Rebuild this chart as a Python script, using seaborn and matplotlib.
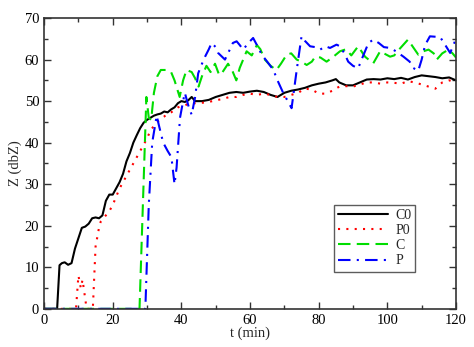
import numpy as np
import pandas as pd
import matplotlib
matplotlib.use("Agg")
import matplotlib.pyplot as plt
import seaborn as sns
from matplotlib.ticker import MultipleLocator
from matplotlib.lines import Line2D

# ---- data ----
t_c0 = [0, 3.8, 4.5, 5.2, 6, 7, 8, 9, 10, 11, 12, 13, 14, 15, 16, 17, 18, 19, 20, 21,
        22, 23, 24, 25, 26, 27, 28, 29, 30, 31, 32, 33, 34, 35, 36, 37, 38, 39, 40, 41,
        42, 43, 44, 45, 46, 48, 50, 52, 54, 56, 58, 60, 62, 64, 66, 68, 70, 72, 74, 76,
        78, 80, 82, 84, 85, 86, 88, 90, 92, 94, 96, 98, 100, 102, 104, 106, 108, 110,
        112, 114, 116, 118, 120]
z_c0 = [0, 0, 10.5, 11, 11.2, 10.6, 11, 14.5, 17, 19.5, 19.8, 20.5, 21.8, 22, 21.8, 22.5,
        26, 27.5, 27.5, 29, 30.5, 32.5, 35.5, 37.5, 40, 41.8, 43.5, 44.8, 45.5, 46, 46.5,
        46.8, 47, 47.5, 47.3, 48, 48.5, 49.5, 50, 49.8, 50.2, 51, 50, 50, 50, 50.3, 51,
        51.5, 52, 52.2, 52, 52.3, 52.5, 52.2, 51.5, 51, 52, 52.5, 52.8, 53.2, 53.8, 54.2,
        54.5, 55, 55.3, 54.5, 53.8, 53.8, 54.5, 55.2, 55.3, 55.2, 55.5, 55.3, 55.6, 55.2,
        55.8, 56.2, 56, 55.8, 55.5, 55.7, 55]

t_p0 = [0, 9.3, 10, 10.7, 11.2, 12.4, 14.2, 15, 16, 16.5, 17, 18, 19, 20, 21, 22, 23, 24,
        25, 26, 27, 28, 29, 30, 31, 32, 33, 34, 35, 36, 37, 38, 39, 40, 41, 42, 44, 46,
        48, 50, 52, 54, 56, 58, 60, 62, 64, 66, 68, 70, 72, 74, 76, 78, 80, 82, 84, 86,
        88, 90, 92, 94, 96, 98, 100, 102, 104, 106, 108, 110, 112, 114, 116, 118, 120]
z_p0 = [0, 0, 8, 5, 7, 0, 0, 15, 19.5, 21, 21.5, 22.5, 23.5, 25, 27, 29, 30.5, 32, 33.5,
        35, 36.5, 38, 39.5, 41, 43, 44, 45, 45.8, 46.3, 47, 47.3, 47.8, 48.5, 48.8, 49,
        49.3, 49.5, 49.6, 49.8, 50.2, 50.5, 51, 51, 51.5, 51.8, 51.5, 51.8, 51.5, 51, 51,
        51.5, 52, 53, 52.8, 51.8, 51.8, 52.5, 53.5, 53.6, 53.5, 54, 54.5, 54.5, 54.2, 54.5,
        54.4, 54.2, 54.8, 54.5, 54, 53.5, 53, 54.5, 55, 54.5]

t_c = [0, 27.8, 29.8, 30.5, 31.2, 32, 33, 34, 35.5, 37, 38, 39.5, 40.5, 41.5, 43, 44,
       45, 46, 47.3, 48.5, 49.8, 51, 52, 53.6, 55, 56, 57, 59, 60.5, 62, 63, 64.3, 66,
       67.7, 69, 70.7, 72, 73.6, 75, 76.5, 78, 79, 80.5, 82.3, 84, 86.2, 88, 89.5, 91.5,
       93.5, 95.9, 97.9, 99, 100.8, 102, 103.5, 106, 107.5, 109, 110.5, 112, 113.5,
       114.4, 116, 117.8, 119, 120]
z_c = [0, 0, 51, 46, 45.5, 52, 56, 57.5, 57.5, 57, 55, 51, 55, 57.5, 57, 55.5, 53.5, 56,
       58.5, 57, 59, 56.3, 57, 59, 57, 55, 58, 62, 61, 63.5, 62.5, 60, 58.5, 57.5, 59,
       61.2, 61.5, 60, 59.5, 58.7, 59.5, 60.7, 60.5, 59.5, 60.5, 62, 62.5, 61, 63.2, 60.7,
       59.1, 62, 61.5, 60.7, 61, 62.5, 64.8, 63, 61.2, 62, 62.4, 61.5, 60, 61.5, 62.4,
       61.5, 60.5]

t_p = [0, 29.5, 30.5, 31.5, 32.8, 33.5, 34.7, 36, 37.1, 38, 38.6, 39.6, 40.5, 41, 42, 43,
       44, 44.9, 46, 46.9, 48, 48.8, 50, 50.7, 52.7, 54.1, 55, 56.1, 57, 58, 59.5, 60.9,
       62, 63.4, 65, 66.8, 68, 69.7, 71, 72.1, 73.6, 75, 76, 77.5, 79, 80.4, 82, 83.3,
       85.2, 86.2, 87.5, 88.6, 90, 91.5, 92.5, 93.5, 94.5, 95.9, 97.5, 99, 100.8, 102.5,
       104.7, 106.5, 107.5, 109, 110, 111, 112.4, 114, 115.4, 116.5, 118.3, 119, 120]
z_p = [0, 0, 25, 40, 46.5, 44, 40, 38, 36.5, 30, 34, 46, 50, 52, 49, 46.7, 51, 56.7, 59,
       60.7, 62.5, 64, 63, 61.6, 60, 62.4, 64, 64.4, 63.5, 62.4, 64, 65.2, 63.5, 61.2,
       59.5, 57.5, 55, 51.9, 50, 48.3, 57.5, 65.6, 64.5, 63.2, 63, 62.4, 63.2, 62.8, 63.6,
       63.2, 61.5, 59.5, 58.5, 57.9, 60, 62, 64, 64.8, 64, 63, 62.8, 62, 60.7, 59.5, 58,
       57.3, 60, 63.5, 65.6, 65.5, 65.4, 64, 61.6, 63, 65]

labels = ["C0", "P0", "C", "P"]
colors = ["#000000", "#ff0000", "#00dd00", "#0000ff"]
styles = ["-", (0, (1, 3)), (0, (6, 3)), (0, (6, 3, 1, 3))]

series = {"C0": (t_c0, z_c0), "P0": (t_p0, z_p0), "C": (t_c, z_c), "P": (t_p, z_p)}

sns.set_style("ticks")
plt.rcParams["font.family"] = ["Liberation Serif", "DejaVu Serif"]

fig = plt.figure(figsize=(4.74, 3.47), dpi=100)
ax = fig.add_axes([0.093, 0.110, 0.869, 0.838])

handles = []
for lab, col, ls in zip(labels, colors, styles):
    t, z = series[lab]
    df = pd.DataFrame({"t": t, "z": z})
    sns.lineplot(data=df, x="t", y="z", ax=ax, color=col, linestyle=ls,
                 linewidth=1.5, sort=False, estimator=None, legend=False)
    handles.append(Line2D([0], [0], color=col, linestyle=ls, linewidth=1.5))

ax.set_xlim(0, 120)
ax.set_ylim(0, 70)
ax.xaxis.set_major_locator(MultipleLocator(20))
ax.xaxis.set_minor_locator(MultipleLocator(10))
ax.yaxis.set_major_locator(MultipleLocator(10))
ax.yaxis.set_minor_locator(MultipleLocator(5))
ax.tick_params(which="both", direction="in", top=True, right=True, colors="#333333",
               labelcolor="black", labelsize=10.5)
ax.tick_params(which="major", length=5, width=1)
ax.tick_params(which="minor", length=3, width=1)
for sp in ax.spines.values():
    sp.set_color("#333333")
    sp.set_linewidth(1.2)

ax.set_xlabel("t (min)", fontsize=10.5, labelpad=0)
ax.set_ylabel("Z (dbZ)", fontsize=10.5, labelpad=2)

leg = ax.legend(handles, labels, loc="upper left", bbox_to_anchor=(0.704, 0.357),
                borderaxespad=0, frameon=True, fancybox=False, handlelength=3.6,
                labelspacing=0.15, handletextpad=0.5, borderpad=0.3, fontsize=10)
leg.get_frame().set_edgecolor("#333333")
leg.get_frame().set_linewidth(1.0)

fig.savefig("out.png", dpi=100)
